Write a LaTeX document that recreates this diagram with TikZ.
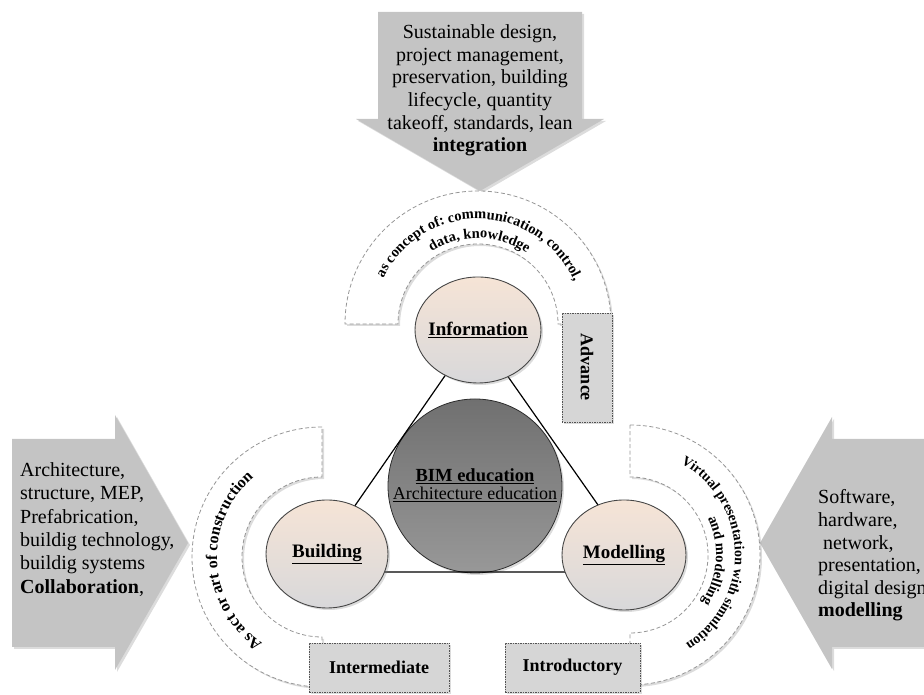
\documentclass[tikz,border=0pt]{standalone}
\usepackage{fontspec}
\setmainfont{Liberation Serif}
\usetikzlibrary{shapes.geometric,shadows,decorations.text}
\definecolor{arrowgray}{RGB}{196,196,196}
\definecolor{boxgray}{RGB}{214,214,214}
\definecolor{bandline}{RGB}{150,150,150}
\definecolor{ctop}{RGB}{246,228,214}
\definecolor{cbot}{RGB}{216,216,218}
\definecolor{bimtop}{RGB}{112,112,112}
\definecolor{bimbot}{RGB}{152,152,152}
\newcommand\fsz[1]{\fontsize{#1}{#1}\selectfont}
\newcommand\arcfontA{\bfseries\fontsize{14.5}{14.5}\selectfont}
\newcommand\arcfontB{\bfseries\fontsize{16}{16}\selectfont}
\newcommand\arcfontC{\bfseries\fontsize{14}{14}\selectfont}
\newcommand\arcfontD{\bfseries\fontsize{14.5}{14.5}\selectfont}
\begin{document}
\begin{tikzpicture}[x=1pt,y=1pt,
  softshadow/.style={drop shadow={opacity=0.28, shadow xshift=2pt, shadow yshift=-2pt}},
  bigarrow/.style={fill=arrowgray, draw=none, softshadow},
  band/.style={fill=white, draw=bandline, line width=0.8pt, dash pattern=on 4pt off 2.5pt, softshadow},
  levelbox/.style={draw=gray!65!black, fill=boxgray, line width=0.8pt, dash pattern=on 1.5pt off 1pt, inner sep=0pt, font=\bfseries\fsz{18}, softshadow},
  concept/.style={ellipse, draw=gray!55!black, line width=0.9pt, top color=ctop, bottom color=cbot, inner sep=0pt, softshadow},
  conceptlabel/.style={inner sep=0pt, font=\bfseries\fsz{19}},
  armtext/.style={inner sep=0pt, align=left},
  tri/.style={line width=1.2pt, draw=black},
  arctext/.style={decorate, decoration={text along path, text align=center, text={#1}}},
]
\useasboundingbox (0,0) rectangle (924,695);

% ---------- big arrows ----------
\path[bigarrow] (378,683) -- (582,683) -- (582,576) -- (604,576) -- (480,504) -- (356,576) -- (378,576) -- cycle;
\node[armtext, align=center, font=\fontsize{20}{22.6}\selectfont] (toptxt) at (480,604.5)
  {Sustainable design,\\project management,\\preservation, building\\lifecycle, quantity\\takeoff, standards, lean\\\textbf{integration}};

\path[bigarrow] (12,256) -- (115,256) -- (115,280) -- (188,152) -- (115,25) -- (115,48) -- (12,48) -- cycle;
\node[armtext, anchor=west, font=\fontsize{20}{23.3}\selectfont] (lefttxt) at (20,165.5)
  {Architecture,\\structure, MEP,\\Prefabrication,\\buildig technology,\\buildig systems\\\textbf{Collaboration},};

\path[bigarrow] (940,256) -- (832,256) -- (832,278) -- (760,152) -- (832,26) -- (832,48) -- (940,48) -- cycle;
\node[armtext, anchor=west, font=\fontsize{20}{22.6}\selectfont] (righttxt) at (818,139.5)
  {Software,\\hardware,\\\hspace*{0.25em}network,\\presentation,\\digital design\\\textbf{modelling}};

% ---------- bands ----------
\coordinate (C1) at (478,371);
\coordinate (C2) at (322,138);
\coordinate (C3) at (630,140);

\path[band] ([shift={(0:133)}]C1) arc[start angle=0, end angle=180, radius=133]
  -- ([shift={(180:80)}]C1) arc[start angle=180, end angle=0, radius=80] -- cycle;
\path[band] ([shift={(90:130)}]C2) arc[start angle=90, end angle=270, radius=130]
  -- ([shift={(270:80)}]C2) arc[start angle=270, end angle=90, radius=80] -- cycle;
\path[band] ([shift={(90:130)}]C3) arc[start angle=90, end angle=-90, radius=130]
  -- ([shift={(-90:78)}]C3) arc[start angle=-90, end angle=90, radius=78] -- cycle;

\path[arctext={|\arcfontA|as concept of: communication, control,}]
  ([shift={(178:105)}]C1) arc[start angle=178, end angle=0, radius=105];
\path[arctext={|\arcfontA|data, knowledge}]
  ([shift={(178:86)}]C1) arc[start angle=178, end angle=0, radius=86];
\path[arctext={|\arcfontB|As act or art of construction}]
  ([shift={(268:105)}]C2) arc[start angle=268, end angle=98, radius=105];
\path[arctext={|\arcfontC|Virtual presentation with simulation}]
  ([shift={(88:105)}]C3) arc[start angle=88, end angle=-85, radius=105];
\path[arctext={|\arcfontD|and modelling}]
  ([shift={(80:86)}]C3) arc[start angle=80, end angle=-88, radius=86];

% ---------- level boxes ----------
\node[levelbox, minimum width=109pt, minimum height=50pt, rotate=-90] (adv) at (587,327.5) {Advance};
\node[levelbox, minimum width=140pt, minimum height=49pt] (inter) at (379,27.5) {Intermediate};
\node[levelbox, minimum width=135pt, minimum height=49pt] (intro) at (572.5,27.5) {Introductory};

% ---------- centre ----------
\node[circle, draw=gray!35!black, line width=0.8pt, top color=bimtop, bottom color=bimbot, minimum size=174pt, inner sep=0pt, softshadow] (bim) at (475,209) {};
\node[inner sep=0pt, align=center] (bimlbl) at (475,210)
  {{\bfseries\fsz{18.5}\underline{BIM education}}\\[2pt]{\fsz{18}\underline{Architecture education}}};

\coordinate (tA) at (476,364);
\coordinate (tB) at (309,123);
\coordinate (tC) at (645,123);
\draw[tri] (tA) -- (tB) -- (tC) -- cycle;

\node[concept, minimum width=126pt, minimum height=106pt] (info) at (478,365) {};
\node[conceptlabel] (infolbl) at (info.center) {\underline{Information}};
\node[concept, minimum width=122pt, minimum height=108pt] (build) at (327,141) {};
\node[conceptlabel] (buildlbl) at (build.center) {\underline{Building}};
\node[concept, minimum width=124pt, minimum height=110pt] (model) at (624,140) {};
\node[conceptlabel] (modellbl) at (model.center) {\underline{Modelling}};
\end{tikzpicture}
\end{document}
